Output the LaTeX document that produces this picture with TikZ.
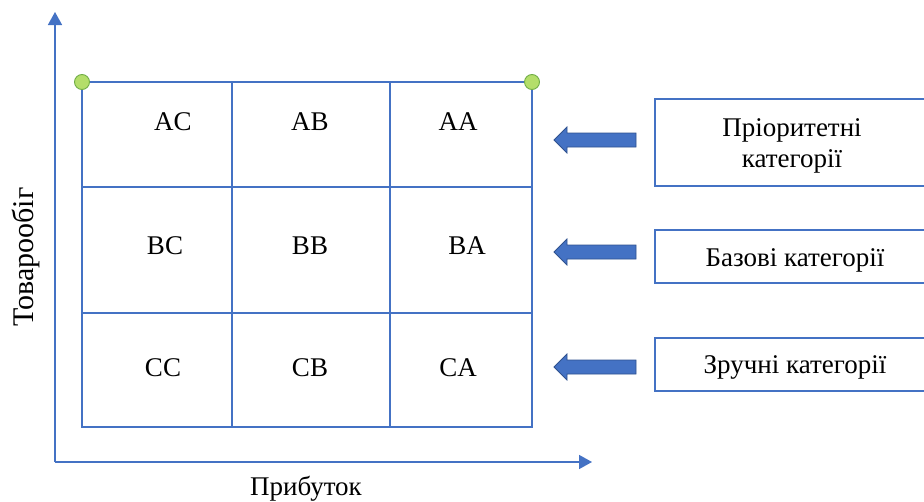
\documentclass[tikz,border=0pt]{standalone}
\usepackage{fontspec}
\setmainfont{Liberation Serif}
\newfontfamily\labelface{Liberation Serif}
\usetikzlibrary{arrows.meta}

\definecolor{lineblue}{HTML}{4472C4}
\definecolor{arrowedge}{HTML}{2F528F}
\definecolor{dotfill}{HTML}{B4DE6A}
\definecolor{dotedge}{HTML}{70AD47}

\tikzset{
  gridline/.style={draw=lineblue, line width=1.6pt},
  axisline/.style={draw=lineblue, line width=1.6pt, -{Triangle[length=13pt,width=14pt]}},
  celltext/.style={font=\labelface\fontsize{27}{31}\selectfont, inner sep=0pt, anchor=base},
  catbox/.style={draw=lineblue, line width=1.4pt, fill=white, inner sep=0pt},
  cattext/.style={font=\labelface\fontsize{27}{31}\selectfont, inner sep=0pt, anchor=base},
  corner/.style={circle, fill=dotfill, draw=dotedge, line width=0.9pt, minimum size=15pt, inner sep=0pt},
  blockarrow/.style={fill=lineblue, draw=arrowedge, line width=0.8pt},
}

\begin{document}
\begin{tikzpicture}[x=1pt, y=-1pt]
  \clip (0,0) rectangle (924,501);
  \fill[white] (0,0) rectangle (924,501);

  % axes
  \coordinate (origin) at (55,462);
  \coordinate (ytip) at (55,12);
  \coordinate (xtip) at (592,462);
  \draw[axisline] (origin) -- (ytip);
  \draw[axisline] (origin) -- (xtip);
  \node[font=\labelface\fontsize{30}{34}\selectfont, inner sep=0pt, rotate=90] (ylabel) at (26,257) {Товарообіг};
  \node[celltext] (xlabel) at (306,495) {Прибуток};

  % 3x3 grid
  \coordinate (gTL) at (82,82);
  \coordinate (gBR) at (532,427);
  \draw[gridline] (gTL) rectangle (gBR);
  \draw[gridline] (232,82) -- (232,427);
  \draw[gridline] (390,82) -- (390,427);
  \draw[gridline] (82,187) -- (532,187);
  \draw[gridline] (82,313) -- (532,313);

  \node[corner] (cTL) at (gTL) {};
  \node[corner] (cTR) at (532,82) {};

  % cell labels (positioned by baseline)
  \node[celltext] (AC) at (173,130) {AC};
  \node[celltext] (AB) at (310,130) {AB};
  \node[celltext] (AA) at (458,130) {AA};
  \node[celltext] (BC) at (165,254) {BC};
  \node[celltext] (BB) at (310,254) {BB};
  \node[celltext] (BA) at (467,254) {BA};
  \node[celltext] (CC) at (163,376) {CC};
  \node[celltext] (CB) at (310,376) {CB};
  \node[celltext] (CA) at (458,376) {CA};

  % category boxes on the right
  \draw[catbox] (655,99) rectangle (935,186);
  \node[cattext] (prioA) at (792,136) {Пріоритетні};
  \node[cattext] (prioB) at (792,167) {категорії};
  \draw[catbox] (655,230) rectangle (935,283);
  \node[cattext] (base) at (795,266) {Базові категорії};
  \draw[catbox] (655,338) rectangle (935,391);
  \node[cattext] (conv) at (795,373) {Зручні категорії};

  % block arrows pointing at the grid rows
  \foreach \ty/\nm in {140/a1, 252/a2, 367/a3}{
    \coordinate (\nm) at (554,\ty);
    \filldraw[blockarrow] (\nm) -- ++(13,-13) -- ++(0,6) -- ++(69,0)
      -- ++(0,14) -- ++(-69,0) -- ++(0,6) -- cycle;
  }
\end{tikzpicture}
\end{document}
